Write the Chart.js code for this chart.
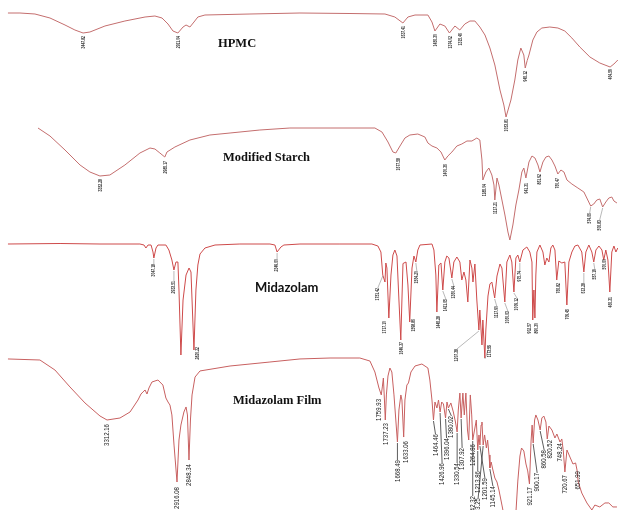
<!DOCTYPE html>
<html>
<head>
<meta charset="utf-8">
<title>FTIR spectra</title>
<script src="https://cdn.jsdelivr.net/npm/chart.js@4.4.1/dist/chart.umd.min.js"></script>
<style>
  html, body { margin: 0; padding: 0; background: #fff; }
  #wrap { width: 618px; height: 510px; }
</style>
</head>
<body>
<div id="wrap"><canvas id="ftir" width="618" height="510"></canvas></div>
<script>
// Spectra as [wavenumber (cm-1), transmittance (%)] pairs
const hpmc = [[3873,96],[3805,96],[3720,95.2],[3635,92],[3550,86.4],[3494,82.4],[3447.82,80],[3409,80.8],[3324,85.6],[3211,89.6],[3097,92.8],[3041,93.6],[3001,92],[2967,87.2],[2939,81.6],[2911.04,80],[2882,84.8],[2865,86.4],[2843,84.8],[2820,88.8],[2798,92.8],[2758,94.4],[2503,95.2],[2220,96],[1937,95.6],[1739,95.2],[1683,92.8],[1637.41,88],[1609,92.8],[1569,94.4],[1496,94.4],[1473,88.8],[1456.3,81.6],[1428,87.2],[1400,85.6],[1374.02,80],[1343,85.6],[1315.46,82.4],[1287,87.2],[1258,89.6],[1230,89.6],[1202,84.8],[1173,78.4],[1145,68],[1117,54.4],[1088,34.4],[1066,22.4],[1053.81,12.8],[1026,26.4],[1004,42.4],[987,58.4],[970,68],[953,62.4],[945.12,52],[934,58],[924,62.4],[902,74.4],[879,80.8],[851,84],[806,84.8],[760,84],[721,81.6],[681,76],[636,68.8],[579,60.8],[523,56],[464.59,52.8],[443,55.2],[421,58.4]];
const hpmcPeaks = [3447.82, 2911.04, 1637.41, 1456.3, 1374.02, 1315.46, 1053.81, 945.12, 464.59];

const starch = [[3703,96.8],[3635,90.4],[3550,79.2],[3465,67.2],[3409,61.6],[3352.28,58.4],[3296,59.2],[3211,67.2],[3126,76.8],[3069,80.8],[3041,80],[3013,76.8],[2985.17,73.6],[2973,77.6],[2928,81.6],[2843,87.2],[2730,91.2],[2616,92.8],[2447,95.2],[2277,96.8],[2050,96.8],[1796,96.8],[1756,93.6],[1722,85.6],[1694,77.6],[1677.58,76.8],[1654,82.4],[1626,88.8],[1598,91.2],[1553,92],[1513,89.6],[1496,84.8],[1473,82.4],[1445,80.8],[1422,77.6],[1400.36,71.2],[1383,74.4],[1360,77.6],[1332,82.4],[1304,84],[1275,86.4],[1247,86.4],[1219,88.8],[1202,87.2],[1190,71.2],[1185.04,55.2],[1168,61.6],[1151,64.8],[1134,59.2],[1122,51.2],[1117.21,39.2],[1105,56.8],[1094,51.2],[1077,39.2],[1060,27.2],[1043,13.6],[1032,7.2],[1015,19.2],[998,35.2],[981,47.2],[964,61.6],[953,64.8],[941.31,56.8],[924,69.6],[907,74.4],[890,72.8],[873,67.2],[861.92,61.6],[845,69.6],[828,73.6],[811,74.4],[794,71.2],[777,66.4],[760.47,60],[743,63.2],[726,61.6],[709,55.2],[681,52],[647,48.8],[613,45.6],[591,39.2],[574.66,34.4],[557,36],[540,39.2],[523,40],[506.83,33.6],[489,37.6],[472,40.8],[455,41.6],[443,38.4],[426,36.8]];
const starchPeaks = [3352.28, 2985.17, 1677.58, 1400.36, 1185.04, 1117.21, 941.31, 861.92, 760.47, 574.66, 506.83];

const midazolam = [[3873,96.8],[3578,97.2],[3352,96.8],[3126,96.8],[3103,96],[3092,93.6],[3080,96],[3063,96],[3052,90.4],[3047.18,85.6],[3035,93.6],[3024,96],[2979,96],[2962,92],[2945,84],[2933.51,76],[2922,82.4],[2911,82.4],[2905,60],[2894,8],[2882,52],[2865,72],[2848,77.6],[2837,74.4],[2820.22,12],[2809,60],[2798,80],[2786,88.8],[2758,93.6],[2701,96],[2560,96.8],[2390,96.8],[2362,96],[2349.6,90.4],[2328,94.4],[2311,96],[2220,96.8],[1994,96.8],[1813,96.8],[1779,95.2],[1762,90.4],[1751.42,72],[1739,66.4],[1734,81.6],[1728,77.6],[1717.1,37.6],[1705,72],[1694,88],[1683,92],[1671,87.2],[1660,52],[1649.37,20],[1643,52],[1637,81.2],[1620,82.4],[1609,64],[1598.86,34.4],[1586,77.6],[1575,87.2],[1564.2,82.4],[1553,92],[1541,96],[1473,96.8],[1462,92],[1451,72],[1445.28,42.4],[1434,80],[1422,81.6],[1411.65,60],[1400,82.4],[1389,87.2],[1377,85.6],[1360.44,69.6],[1349,82.4],[1332,86.4],[1315,82.4],[1304,68],[1292,74.4],[1281,68],[1270,50.4],[1258,84],[1247,77.6],[1241,66.4],[1230,80.8],[1219,52],[1207.38,28],[1202,44],[1190,16],[1185,36],[1173.55,5.6],[1168,28],[1156,55.2],[1145,64.8],[1134,66.4],[1117.9,53.6],[1105,71.2],[1088,80.8],[1077,77.6],[1060.63,50.4],[1049,82.4],[1032,88],[1021,82.4],[1009.12,58.4],[998,85.6],[987,88],[975.74,82.4],[958,92],[936,94.4],[919,90.4],[907,82.4],[902.57,36],[896,60],[890.3,37.6],[885,72],[879,90.4],[862,96],[845,90.4],[834,80],[823,85.6],[811,82.4],[800,93.6],[789,96],[777,92],[766.82,68],[755,83.2],[738,81.6],[721,82.4],[709.45,48],[698,82.4],[681,90.4],[664,95.2],[647,96],[625,90.4],[613.28,74.4],[602,90.4],[585,96],[568,90.4],[557.19,82.4],[545,92],[528,95.2],[511,92],[500.6,84],[489,92],[477,84],[466.31,58.4],[455,90.4],[443,95.2],[432,90.4],[421,93.6]];
const midazolamPeaks = [3047.18, 2933.51, 2820.22, 2349.6, 1751.42, 1717.1, 1649.37, 1598.86, 1564.2, 1445.28, 1411.65, 1360.44, 1207.38, 1173.55, 1117.9, 1060.63, 1009.12, 975.74, 902.57, 890.3, 766.82, 709.45, 613.28, 557.19, 500.6, 466.31];

const film = [[3873,96.9],[3692,96.25],[3607,90],[3522,79.4],[3437,69.4],[3352,61.25],[3312.16,58.75],[3239,60],[3182,63.75],[3137,71.25],[3120,75],[3109,76.25],[3097,77.5],[3086,75],[3075,78.75],[3058,82.5],[3024,83.75],[2996,80.6],[2979,72.5],[2967,70],[2956,68.1],[2945,61.9],[2933,43.1],[2916.08,20],[2905,46.25],[2894,55.6],[2877,63.75],[2865,66.9],[2857,61.9],[2848.34,33.75],[2840,58.75],[2831,74.4],[2814,85.6],[2786,89.4],[2616,92.5],[2390,95],[2220,96.9],[2050,97.5],[1881,97.5],[1824,95.6],[1796,88.75],[1773,78.75],[1759.93,74.4],[1754,79.4],[1748,85],[1742,71.25],[1737.23,58.75],[1731,74.4],[1722,86.25],[1711,91.25],[1700,88.75],[1688,74.4],[1668.49,45],[1660,65],[1649,74.4],[1643,71.25],[1633.06,48.1],[1626,71.25],[1615,80.6],[1606,81.9],[1592,88.75],[1569,92.5],[1530,93.75],[1496,91.25],[1485,83.75],[1473,71.25],[1464.46,58.75],[1456,70],[1445,66.25],[1436,71.25],[1426.96,63.75],[1418,70],[1408,68.75],[1396.04,60],[1388,70],[1380.02,66.25],[1366,69.4],[1352,63.75],[1340,57.5],[1330.54,51.25],[1324,65],[1315,75.6],[1307.92,60],[1298,75.6],[1290,61.9],[1281,75.6],[1272,52.5],[1264.86,46.25],[1256,74.4],[1248,61.9],[1242.32,46.25],[1230,53.75],[1222,58.75],[1213.86,40],[1207,49.4],[1201.59,43.1],[1195,55.6],[1190,57.5],[1183.25,43.1],[1175,49.4],[1165,41.25],[1158,46.25],[1150,36.9],[1145.14,28.75],[1138,32.5],[1128,27.5],[1117,22.5],[1105,20],[1094,15],[1077,5.6],[1066,-0.6],[1040,-5],[1015,-4],[998,0.6],[987,20.6],[975,36.25],[966,41.25],[953,39.4],[941,31.25],[931,26.9],[921.17,18.75],[912,45.6],[906,55.6],[900.17,44.4],[892,58.75],[885,61.9],[873,58.75],[860.58,52.5],[851,60],[840,61.25],[828,57.5],[820.52,46.9],[811,55],[794,52.5],[777,47.5],[766,50],[748.24,45],[738,46.9],[729,38.75],[720.67,26.25],[709,40],[692,35.6],[675,31.25],[660,31.9],[651.99,27.5],[645,20],[625,13.1],[596,6.9],[568,2.5],[551,5.6],[523,4.4],[494,6.9],[472,6.9],[449,4.4],[426,4.4]];
const filmPeaks = [3312.16, 2916.08, 2848.34, 1759.93, 1737.23, 1668.49, 1633.06, 1464.46, 1426.96, 1396.04, 1380.02, 1330.54, 1307.92, 1264.86, 1242.32, 1213.86, 1201.59, 1183.25, 1145.14, 921.17, 900.17, 860.58, 820.52, 748.24, 720.67, 651.99];

const panelNames = ['HPMC', 'Modified Starch', 'Midazolam', 'Midazolam Film'];

// Label placement: [drop below the band in px, sideways shift in px]
const hpmcLayout = [[2,1],[2,1],[2,1],[2,1],[2,1],[2,1],[1,1],[2,1],[1,1]];
const starchLayout = [[2,1],[3,1],[4,3],[3,1],[3,2],[1,1],[4,1],[1,0],[3,0],[6,-1],[12,-3]];
const midazolamLayout = [[5,0],[10,0],[-4,4],[6,0],[12,-5],[2,-4],[1,1],[-4,4],[8,1],[3,2],[8,3],[7,2],[18,-22],[-14,5],[7,2],[8,3],[5,3],[8,0],[2,-3],[4,2],[2,2],[3,1],[10,0],[6,1],[-2,1],[4,1]];
const filmLayout = [[3,0],[4,0],[3,0],[3,-2],[2,1],[17,0],[3,2],[13,2],[50,2],[19,1],[7,3],[30,0],[29,1],[3,4],[55,0],[20,0],[32,5],[52,-5],[17,3],[2,0],[29,4],[19,4],[0,3],[0,0],[2,0],[0,1]];

const toXY = s => s.map(([x, y]) => ({ x, y }));

const peakLabels = {
  id: 'peakLabels',
  afterDatasetsDraw(chart, args, opts) {
    const ctx = chart.ctx;
    const xs = chart.scales.x;
    opts.sets.forEach(set => {
      const ys = chart.scales[set.axis];
      set.peaks.forEach((wn, i) => {
        const pt = set.series.find(p => p[0] === wn);
        if (!pt) return;
        const x = xs.getPixelForValue(wn);
        const y = ys.getPixelForValue(pt[1]);
        const [drop, dx] = set.layout[i] || [2, 0];
        const lx = x + dx;
        const top = y + drop + 1;
        ctx.save();
        if (Math.abs(drop) > 4 || Math.abs(dx) > 4) {
          ctx.strokeStyle = set.leader;
          ctx.lineWidth = set.leaderWidth;
          ctx.beginPath();
          ctx.moveTo(x, y + 1);
          ctx.lineTo(lx, top);
          ctx.stroke();
        }
        ctx.translate(lx, top);
        ctx.rotate(-Math.PI / 2);
        ctx.scale(set.condense, 1);
        ctx.font = set.font;
        ctx.fillStyle = set.color;
        ctx.textAlign = 'right';
        ctx.textBaseline = 'middle';
        ctx.fillText(wn.toFixed(2), 0, 0);
        ctx.restore();
      });
    });
  }
};

const panelTitles = {
  id: 'panelTitles',
  afterDraw(chart, args, opts) {
    const ctx = chart.ctx;
    ctx.save();
    ctx.fillStyle = '#111';
    ctx.textBaseline = 'alphabetic';
    opts.items.forEach(t => {
      ctx.font = t.font;
      ctx.fillText(t.text, t.x, t.y);
    });
    ctx.restore();
  }
};

const line = (label, series, axis, color) => ({
  label, data: toXY(series), yAxisID: axis,
  borderColor: color, borderWidth: 1, pointRadius: 0, tension: 0, fill: false
});

const serif = 'bold 12.5px "Liberation Serif", "DejaVu Serif", serif';
const tinyFont = 'bold 4.6px "Liberation Sans", Arial, sans-serif';
const filmFont = '7.6px "Liberation Sans", Arial, sans-serif';

new Chart(document.getElementById('ftir'), {
  type: 'line',
  data: {
    datasets: [
      line(panelNames[0], hpmc, 'yH', 'rgb(196,110,110)'),
      line(panelNames[1], starch, 'yS', 'rgb(196,110,110)'),
      line(panelNames[2], midazolam, 'yM', 'rgb(206,74,74)'),
      line(panelNames[3], film, 'yF', 'rgb(200,96,96)')
    ]
  },
  options: {
    responsive: false,
    animation: false,
    devicePixelRatio: 1,
    layout: { padding: 0 },
    scales: {
      x: { type: 'linear', reverse: true, min: 420, max: 3918, display: false },
      yH: { type: 'linear', min: -301.6, max: 106.4, display: false },
      yS: { type: 'linear', min: -208.8, max: 199.2, display: false },
      yM: { type: 'linear', min: -116, max: 292, display: false },
      yF: { type: 'linear', min: 2.5, max: 321.25, display: false }
    },
    plugins: {
      legend: { display: false },
      tooltip: { enabled: false },
      peakLabels: {
        sets: [
          { series: hpmc, peaks: hpmcPeaks, layout: hpmcLayout, axis: 'yH', font: tinyFont, condense: 0.75, color: '#333', leader: '#8a8a8a', leaderWidth: 0.6 },
          { series: starch, peaks: starchPeaks, layout: starchLayout, axis: 'yS', font: tinyFont, condense: 0.75, color: '#333', leader: '#8a8a8a', leaderWidth: 0.6 },
          { series: midazolam, peaks: midazolamPeaks, layout: midazolamLayout, axis: 'yM', font: tinyFont, condense: 0.75, color: '#333', leader: '#8a8a8a', leaderWidth: 0.6 },
          { series: film, peaks: filmPeaks, layout: filmLayout, axis: 'yF', font: filmFont, condense: 0.8, color: '#222', leader: '#333', leaderWidth: 0.8 }
        ]
      },
      panelTitles: {
        items: [
          { text: panelNames[0], x: 218, y: 47, font: serif },
          { text: panelNames[1], x: 223, y: 161, font: serif },
          { text: panelNames[2], x: 255, y: 292, font: 'bold 13px Lato, "Liberation Sans", sans-serif' },
          { text: panelNames[3], x: 233, y: 404, font: serif }
        ]
      }
    }
  },
  plugins: [peakLabels, panelTitles]
});
</script>
</body>
</html>
